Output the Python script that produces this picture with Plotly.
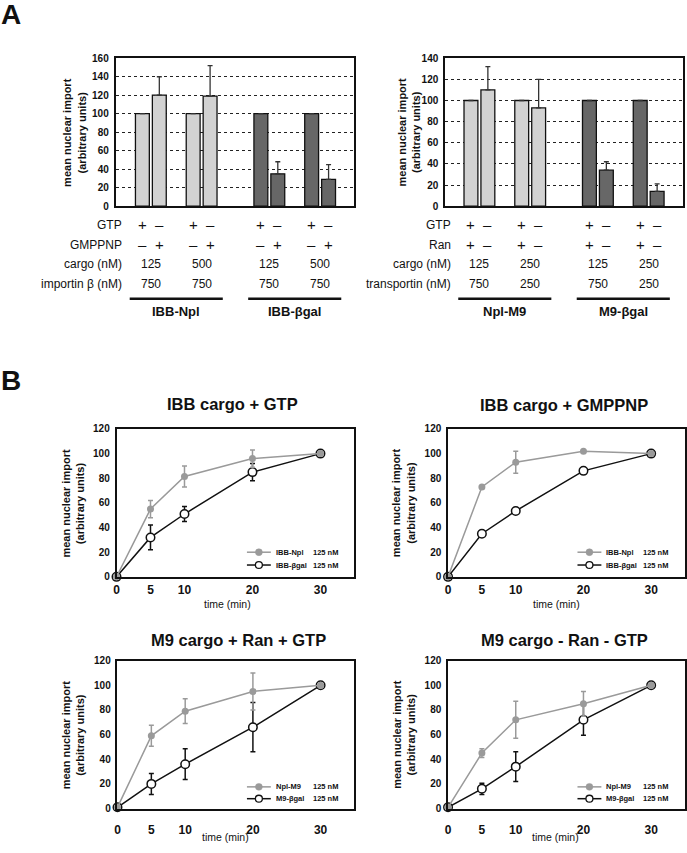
import plotly.graph_objects as go

W, H = 687, 853
FONT = "Liberation Sans"

# ---------------- Panel A data ----------------
a_pair_labels_left = ["IBB-Npl", "IBB-βgal"]
a_left_values = [100, 120, 100, 119, 100, 35, 100, 29]
a_left_err = [None, 20, None, 33, None, 13, None, 16]
a_left_gtp = ["+", "–", "+", "–", "+", "–", "+", "–"]
a_left_gmppnp = ["–", "+", "–", "+", "–", "+", "–", "+"]
a_left_cargo = ["125", "500", "125", "500"]
a_left_importin = ["750", "750", "750", "750"]

a_pair_labels_right = ["Npl-M9", "M9-βgal"]
a_right_values = [100, 110, 100, 93, 100, 34, 100, 14]
a_right_err = [None, 22, None, 27, None, 8, None, 7]
a_right_gtp = ["+", "–", "+", "–", "+", "–", "+", "–"]
a_right_ran = ["+", "–", "+", "–", "+", "–", "+", "–"]
a_right_cargo = ["125", "250", "125", "250"]
a_right_transportin = ["750", "250", "750", "250"]

bar_shade = ["light"] * 4 + ["dark"] * 4

# ---------------- Panel B data ----------------
times = [0, 5, 10, 20, 30]
gtp_npl = [0, 55, 81.5, 96, 100]
gtp_npl_err = [None, 7, 8.5, 7, None]
gtp_bgal = [0, 32, 51, 85, 100]
gtp_bgal_err = [None, 10, 6, 7, None]
gmppnp_npl = [0, 73, 93, 102, 100]
gmppnp_npl_err = [None, None, 9, None, None]
gmppnp_bgal = [0, 35, 53.5, 86, 100]
gmppnp_bgal_err = [None, 2, 2, 1, None]
ran_npl = [1, 59, 79, 95, 100]
ran_npl_err = [None, 8.5, 10, 15, None]
ran_bgal = [1, 20, 36, 66, 100]
ran_bgal_err = [None, 8.5, 12.5, 20, None]
noran_npl = [1, 45, 72, 85, 100]
noran_npl_err = [None, 3.5, 15, 10, None]
noran_bgal = [1, 16, 34, 72, 100]
noran_bgal_err = [None, 4.5, 12, 12.5, None]

b_titles = ["IBB cargo + GTP", "IBB cargo + GMPPNP", "M9 cargo + Ran + GTP", "M9 cargo - Ran - GTP"]
b_names = [("IBB-Npl", "IBB-βgal"), ("IBB-Npl", "IBB-βgal"), ("Npl-M9", "M9-βgal"), ("Npl-M9", "M9-βgal")]
conc = "125 nM"

# ---------------- helpers ----------------
def px(x):
    return x / W

def py(y):
    return 1 - y / H

fig = go.Figure()

LIGHT = "#d2d2d2"
DARK = "#676767"
GRAY = "#9a9a9a"
INK = "#111111"

# bar positions: pairs separated by 3 units, cargo groups by 4
pair_start = [0, 3, 7, 10]
bar_x = [p + o for p in pair_start for o in (0, 1)]

def add_bars(values, errs, axis):
    colors = [LIGHT if s == "light" else DARK for s in bar_shade]
    up = [e if e is not None else None for e in errs]
    dn = [0 if e is not None else None for e in errs]
    fig.add_trace(go.Bar(
        x=bar_x, y=values, width=0.82,
        marker=dict(color=colors, line=dict(color=INK, width=1.3)),
        error_y=dict(type="data", symmetric=False, array=up, arrayminus=dn,
                     color="#333", thickness=1.3, width=2.5),
        xaxis="x" + axis, yaxis="y" + axis, showlegend=False,
    ))

add_bars(a_left_values, a_left_err, "")
add_bars(a_right_values, a_right_err, "2")

# Panel B traces
b_sets = [
    (gtp_npl, gtp_npl_err, gtp_bgal, gtp_bgal_err),
    (gmppnp_npl, gmppnp_npl_err, gmppnp_bgal, gmppnp_bgal_err),
    (ran_npl, ran_npl_err, ran_bgal, ran_bgal_err),
    (noran_npl, noran_npl_err, noran_bgal, noran_bgal_err),
]
for i, (npl, npl_e, bg, bg_e) in enumerate(b_sets):
    ax = str(i + 3)
    n1, n2 = b_names[i]
    fig.add_trace(go.Scatter(
        x=times, y=bg, mode="lines+markers", name=n2,
        line=dict(color=INK, width=1.5),
        marker=dict(symbol="circle", size=8.5, color="white", line=dict(color=INK, width=1.5)),
        error_y=dict(type="data", array=bg_e, color=INK, thickness=1.5, width=2.5),
        xaxis="x" + ax, yaxis="y" + ax, showlegend=False, cliponaxis=False,
    ))
    fig.add_trace(go.Scatter(
        x=times, y=npl, mode="lines+markers", name=n1,
        line=dict(color=GRAY, width=1.5),
        marker=dict(symbol="circle", size=7, color=GRAY, line=dict(color=GRAY, width=0)),
        error_y=dict(type="data", array=npl_e, color=GRAY, thickness=1.5, width=2.5),
        xaxis="x" + ax, yaxis="y" + ax, showlegend=False, cliponaxis=False,
    ))

# ---------------- axes ----------------
frame = dict(showline=True, linecolor=INK, linewidth=1.5, mirror=True, zeroline=False)
ytick = dict(family=FONT, size=10, color=INK, weight="bold")

layout = dict(
    width=W, height=H, margin=dict(l=0, r=0, t=0, b=0),
    paper_bgcolor="white", plot_bgcolor="white",
    font=dict(family=FONT, color=INK),
    showlegend=False,
)

# A left
layout["xaxis"] = dict(domain=[px(113), px(353)], range=[-27 / 17, -27 / 17 + 240 / 17],
                       showticklabels=False, showgrid=False, ticks="", **frame)
layout["yaxis"] = dict(domain=[py(203), py(53)], range=[0, 160], dtick=20, tickfont=ytick,
                       showgrid=True, gridcolor="#222", griddash="dot", gridwidth=1,
                       ticks="outside", ticklen=3, tickcolor="rgba(0,0,0,0)", **frame)
# A right
layout["xaxis2"] = dict(domain=[px(444), px(683)], range=[-26 / 17, -26 / 17 + 239 / 17],
                        showticklabels=False, showgrid=False, ticks="", anchor="y2", **frame)
layout["yaxis2"] = dict(domain=[py(203), py(53)], range=[0, 140], dtick=20, tickfont=ytick,
                        showgrid=True, gridcolor="#222", griddash="dot", gridwidth=1,
                        ticks="outside", ticklen=3, tickcolor="rgba(0,0,0,0)", anchor="x2", **frame)

b_boxes = [(114, 353, 429, 579, 1), (447, 685, 429, 579, 1), (115, 353, 664, 814, 9), (447, 685, 664, 814, 9)]
for i, (x0, x1, y0, y1, tl) in enumerate(b_boxes):
    n = str(i + 3)
    layout["xaxis" + n] = dict(domain=[px(x0), px(x1)], range=[0, 35], tickvals=times,
                               tickfont=dict(family=FONT, size=12, color=INK, weight="bold"),
                               ticks="outside", ticklen=tl, tickcolor="rgba(0,0,0,0)",
                               showgrid=False, anchor="y" + n, **frame)
    layout["yaxis" + n] = dict(domain=[py(y1), py(y0)], range=[0, 120], dtick=20, tickfont=ytick,
                               ticks="outside", ticklen=3, tickcolor="rgba(0,0,0,0)",
                               showgrid=False, anchor="x" + n, **frame)

fig.update_layout(**layout)

# ---------------- annotations ----------------
ann = []
def text(x, y, s, size=12, bold=False, xanchor="center", xref="paper", angle=0, yanchor="middle"):
    ann.append(dict(x=x, y=y, xref=xref, yref="paper", text=("<b>%s</b>" % s) if bold else s,
                    showarrow=False, xanchor=xanchor, yanchor=yanchor, textangle=angle,
                    font=dict(family=FONT, size=size, color=INK)))

text(px(-4), py(9), "A", size=28, bold=True, xanchor="left")
text(px(-4), py(380), "B", size=28, bold=True, xanchor="left")

# y titles
for cx, y0, y1 in [(72, 53, 203), (408, 53, 203), (70, 429, 579), (402, 429, 579), (70, 664, 814), (402, 664, 814)]:
    text(px(cx), py((y0 + y1) / 2), "mean nuclear import<br>(arbitrary units)", size=11, bold=True, angle=-90)

# table under panel A
rows_y = [222, 242, 262, 282]
def table(xref, lab_x, labels, sign_rows, num_rows, groups):
    for lab, ry in zip(labels, rows_y):
        text(px(lab_x), py(ry), lab, size=12, xanchor="right")
    for r, signs in enumerate(sign_rows):
        for xv, s in zip(bar_x, signs):
            text(xv, py(rows_y[r]), s, size=15, xref=xref)
    for r, nums in enumerate(num_rows):
        for p, s in zip(pair_start, nums):
            text(p + 0.5, py(rows_y[2 + r]), s, size=12, xref=xref)
    for g, name in enumerate(groups):
        a, b = bar_x[4 * g], bar_x[4 * g + 3]
        fig.add_shape(type="line", xref=xref, yref="paper", x0=a - 0.75, x1=b + 0.75,
                      y0=py(297), y1=py(297), line=dict(color=INK, width=2.5))
        text((a + b) / 2, py(310), name, size=13, bold=True, xref=xref)

table("x", 122, ["GTP", "GMPPNP", "cargo (nM)", "importin β (nM)"],
      [a_left_gtp, a_left_gmppnp], [a_left_cargo, a_left_importin], a_pair_labels_left)
table("x2", 452, ["GTP", "Ran", "cargo (nM)", "transportin (nM)"],
      [a_right_gtp, a_right_ran], [a_right_cargo, a_right_transportin], a_pair_labels_right)

# B titles and x titles
for t, (cx, cy), (tx, ty) in zip(b_titles, [(231, 404), (563, 405), (237, 643), (564, 643)],
                                 [(225, 607), (556, 607), (223, 843), (555, 843)]):
    text(px(cx), py(cy), t, size=16.5, bold=True)
    text(px(tx), py(ty), "time (min)", size=10.5)

# compact in-plot legends (drawn as key shapes + text)
for i, (x0, x1, y0, y1, tl) in enumerate(b_boxes):
    n1, n2 = b_names[i]
    rows = (y1 - 25, y1 - 12) if i < 2 else (y1 - 22, y1 - 10)
    for r, (nm, col, fill) in enumerate([(n1, GRAY, GRAY), (n2, INK, "white")]):
        ry = rows[r]
        fig.add_shape(type="line", xref="paper", yref="paper", x0=px(x1 - 108), x1=px(x1 - 84),
                      y0=py(ry), y1=py(ry), line=dict(color=col, width=1.5))
        fig.add_shape(type="circle", xref="paper", yref="paper",
                      x0=px(x1 - 96 - 3.5), x1=px(x1 - 96 + 3.5), y0=py(ry + 3.5), y1=py(ry - 3.5),
                      fillcolor=fill, line=dict(color=col, width=1.3 if fill == "white" else 0.5))
        text(px(x1 - 81), py(ry), nm, size=7.5, bold=True, xanchor="left")
        text(px(x1 - 44), py(ry), conc, size=7.5, bold=True, xanchor="left")

fig.update_layout(annotations=ann)
fig.write_html("out.html", config={"displayModeBar": False},
               post_script="document.body.style.margin='0';document.body.style.overflow='hidden';")
